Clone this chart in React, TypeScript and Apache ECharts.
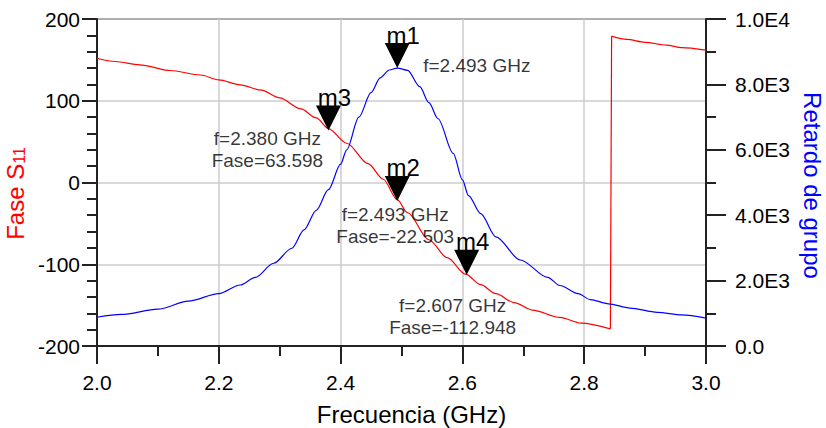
import React, { useEffect, useRef } from 'react';
import * as echarts from 'echarts';

const FONT = '"Liberation Sans", Arial, Helvetica, sans-serif';

// Phase of S11 (deg), left axis
const phaseFreq = [2.0, 2.03, 2.07, 2.12, 2.17, 2.2, 2.235, 2.27, 2.3, 2.335, 2.36, 2.38, 2.41, 2.445, 2.47, 2.493, 2.51, 2.545, 2.575, 2.605, 2.63, 2.655, 2.685, 2.715, 2.76, 2.795, 2.843, 2.845, 2.87, 2.9, 2.935, 2.96, 3.0];
const phaseDeg = [152, 148, 144, 137, 131.5, 125.5, 119.5, 113, 103.5, 90, 79, 66, 48, 23, 4, -21, -37, -70, -92, -112, -125, -136, -147, -156, -165, -172, -179, 179, 175, 171.5, 168, 165, 162];
const phaseJumpIndex = 26; // last point before the +360 wrap

// Group delay, right axis
const delayFreq = [2.0, 2.04, 2.1, 2.15, 2.2, 2.235, 2.26, 2.29, 2.32, 2.34, 2.36, 2.38, 2.4, 2.41, 2.43, 2.45, 2.465, 2.48, 2.493, 2.51, 2.53, 2.545, 2.56, 2.585, 2.6, 2.61, 2.63, 2.655, 2.695, 2.74, 2.76, 2.79, 2.81, 2.84, 2.875, 2.92, 2.96, 3.0];
const delayVal = [880, 965, 1125, 1370, 1600, 1865, 2100, 2530, 2990, 3550, 4150, 4780, 5560, 6000, 7000, 7750, 8200, 8440, 8500, 8430, 7930, 7440, 6950, 5890, 5080, 4600, 4050, 3340, 2630, 2100, 1850, 1600, 1420, 1290, 1160, 1030, 950, 850];

// Markers
const markerNames = ['m1', 'm2', 'm3', 'm4'];
const markerFreq = [2.493, 2.493, 2.38, 2.607];
const markerValue = [8500, -22.503, 63.598, -112.948];
const markerAxis = [1, 0, 0, 0];
const markerNotes = ['f=2.493 GHz', 'f=2.493 GHz\nFase=-22.503', 'f=2.380 GHz\nFase=63.598', 'f=2.607 GHz\nFase=-112.948'];

// Tick labels
const xTickLabels = ['2.0', '2.2', '2.4', '2.6', '2.8', '3.0'];
const leftTickLabels = ['-200', '-100', '0', '100', '200'];
const rightTickLabels = ['0.0', '2.0E3', '4.0E3', '6.0E3', '8.0E3', '1.0E4'];

const noteStyle: any[] = [
  { align: 'left', offset: [26, -3] },
  { align: 'center', offset: [-2, 25] },
  { align: 'center', offset: [-61, 19] },
  { align: 'center', offset: [-14, 42] },
];

const AXIS_COLOR = '#222';
const GRID_COLOR = '#cccccc';

export default function App() {
  const ref = useRef<HTMLDivElement>(null);
  useEffect(() => {
    if (!ref.current) return;
    const chart = echarts.init(ref.current, undefined, { renderer: 'svg' });

    const phasePts = phaseFreq.map((f, i) => [f, phaseDeg[i]]);
    const redLine = (data: number[][], smooth: any) => ({
      type: 'line',
      yAxisIndex: 0,
      showSymbol: false,
      symbol: 'none',
      smooth,
      smoothMonotone: 'x',
      lineStyle: { color: '#ff0000', width: 1.2 },
      data,
    });

    const markerSeries = [0, 1].map((ax) => ({
      type: 'scatter',
      yAxisIndex: ax,
      z: 5,
      symbol: 'path://M0,0L10,0L5,10Z',
      symbolSize: [25, 25],
      symbolOffset: [0, '-50%'],
      itemStyle: { color: '#000', opacity: 1 },
      emphasis: { disabled: true },
      label: {
        show: true,
        position: 'top',
        distance: -4,
        offset: [6, 0],
        formatter: '{b}',
        fontSize: 24,
        color: '#000',
        fontFamily: FONT,
      },
      data: markerNames
        .map((n, i) => ({ name: n, value: [markerFreq[i], markerValue[i]], ax: markerAxis[i] }))
        .filter((d) => d.ax === ax)
        .map((d) => ({ name: d.name, value: d.value })),
    }));

    const noteSeries = [0, 1].map((ax) => ({
      type: 'scatter',
      yAxisIndex: ax,
      z: 6,
      symbolSize: 1,
      itemStyle: { color: 'transparent' },
      emphasis: { disabled: true },
      data: markerNames
        .map((n, i) => ({ i, ax: markerAxis[i] }))
        .filter((d) => d.ax === ax)
        .map(({ i }) => ({
          value: [markerFreq[i], markerValue[i]],
          label: {
            show: true,
            position: 'inside',
            formatter: markerNotes[i],
            align: noteStyle[i].align,
            verticalAlign: 'middle',
            offset: noteStyle[i].offset,
            fontSize: 19,
            lineHeight: 22,
            color: '#000',
            fontFamily: FONT,
          },
        })),
    }));

    chart.setOption({
      animation: false,
      backgroundColor: '#fff',
      textStyle: { fontFamily: FONT },
      grid: {
        left: 97,
        right: 120,
        top: 19,
        bottom: 82,
        show: true,
        borderColor: AXIS_COLOR,
        borderWidth: 1.5,
        containLabel: false,
        outerBoundsMode: 'none',
      },
      xAxis: {
        type: 'value',
        min: 2.0,
        max: 3.0,
        interval: 0.2,
        name: 'Frecuencia (GHz)',
        nameLocation: 'middle',
        nameGap: 56,
        nameTextStyle: { fontSize: 24, color: '#000', padding: [0, 0, 0, 20], fontFamily: FONT },
        axisLine: { show: true, onZero: false, lineStyle: { color: AXIS_COLOR, width: 2 } },
        axisTick: { show: true, length: 18, lineStyle: { color: AXIS_COLOR, width: 2 } },
        minorTick: { show: true, splitNumber: 2, length: 10, lineStyle: { color: AXIS_COLOR, width: 2 } },
        splitLine: { show: true, lineStyle: { color: GRID_COLOR, width: 1.5 } },
        axisLabel: {
          fontSize: 21,
          color: '#000',
          margin: 26,
          fontFamily: FONT,
          formatter: (v: number) => xTickLabels[Math.round((v - 2) / 0.2)] ?? '',
        },
      },
      yAxis: [
        {
          type: 'value',
          min: -200,
          max: 200,
          interval: 100,
          position: 'left',
          name: '{a|Fase S}{b|11}',
          nameLocation: 'middle',
          nameRotate: 90,
          nameGap: 56,
          nameTextStyle: {
            color: '#ff0000',
            padding: [0, 22, 0, 0],
            rich: {
              a: { fontSize: 24, color: '#ff0000', fontFamily: FONT },
              b: { fontSize: 16, color: '#ff0000', fontFamily: FONT, verticalAlign: 'bottom' },
            },
          },
          axisLine: { show: true, onZero: false, lineStyle: { color: AXIS_COLOR, width: 2 } },
          axisTick: { show: true, length: 15, lineStyle: { color: AXIS_COLOR, width: 2 } },
          minorTick: { show: true, splitNumber: 5, length: 10, lineStyle: { color: AXIS_COLOR, width: 2 } },
          splitLine: { show: true, lineStyle: { color: GRID_COLOR, width: 1.5 } },
          axisLabel: {
            fontSize: 21,
            color: '#000',
            margin: 17,
            padding: [6, 0, 0, 0],
            fontFamily: FONT,
            formatter: (v: number) => leftTickLabels[Math.round((v + 200) / 100)] ?? '',
          },
        },
        {
          type: 'value',
          min: 0,
          max: 10000,
          interval: 2000,
          position: 'right',
          name: 'Retardo de grupo',
          nameLocation: 'middle',
          nameRotate: -90,
          nameGap: 94,
          nameTextStyle: { fontSize: 24, color: '#0000ff', fontFamily: FONT, padding: [0, 0, 0, 6] },
          axisLine: { show: true, onZero: false, lineStyle: { color: AXIS_COLOR, width: 2 } },
          axisTick: { show: true, length: 20, lineStyle: { color: AXIS_COLOR, width: 2 } },
          minorTick: { show: true, splitNumber: 2, length: 10, lineStyle: { color: AXIS_COLOR, width: 2 } },
          splitLine: { show: false },
          axisLabel: {
            fontSize: 21,
            color: '#000',
            margin: 29,
            padding: [7, 0, 0, 0],
            fontFamily: FONT,
            formatter: (v: number) => rightTickLabels[Math.round(v / 2000)] ?? '',
          },
        },
      ],
      series: [
        redLine(phasePts.slice(0, phaseJumpIndex + 1), 0.3),
        redLine(phasePts.slice(phaseJumpIndex, phaseJumpIndex + 2), false),
        redLine(phasePts.slice(phaseJumpIndex + 1), 0.3),
        {
          type: 'line',
          yAxisIndex: 1,
          showSymbol: false,
          symbol: 'none',
          smooth: 0.3,
          smoothMonotone: 'x',
          lineStyle: { color: '#0000ff', width: 1.2 },
          data: delayFreq.map((f, i) => [f, delayVal[i]]),
        },
        ...markerSeries,
        ...noteSeries,
      ],
    });
    return () => chart.dispose();
  }, []);
  return (
    <div
      ref={ref}
      style={{ position: 'absolute', left: 0, top: 0, width: 826, height: 428, background: '#fff' }}
    />
  );
}
